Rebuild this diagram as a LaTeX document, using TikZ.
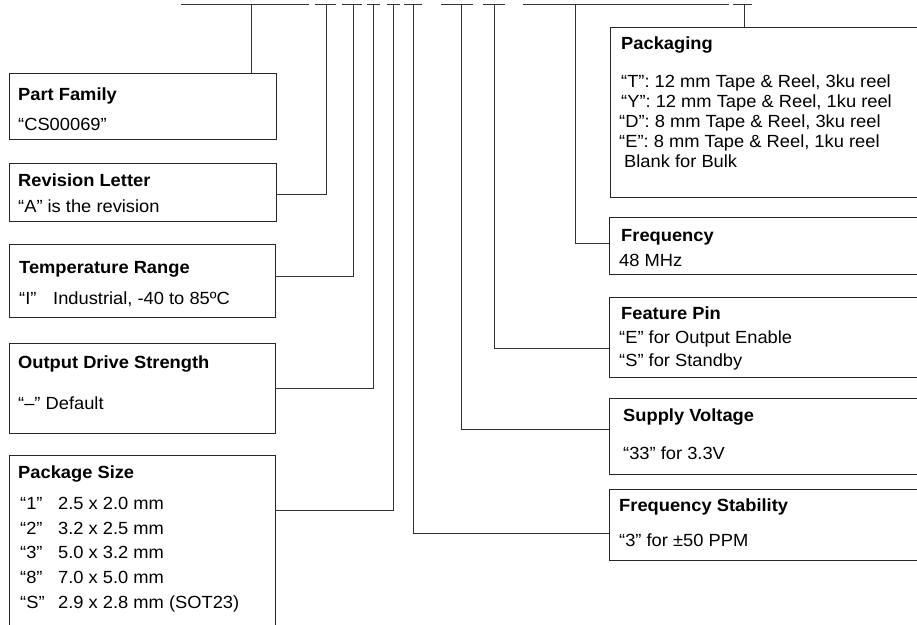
\documentclass[tikz,border=0pt]{standalone}
\usepackage{fontspec}
\setmainfont{Liberation Sans}[FakeStretch=1.04]
\begin{document}
\begin{tikzpicture}[x=1pt,y=-1pt,
  ln/.style={line width=1pt, draw=black!80},
  box/.style={draw=black!85, line width=1pt, anchor=north west, inner sep=0pt, outer sep=0pt},
  txt/.style={anchor=base west, inner sep=0pt, font=\fontsize{17.6}{20}\selectfont},
  hd/.style={anchor=base west, inner sep=0pt, font=\fontsize{17.6}{20}\selectfont\bfseries}]
\useasboundingbox (0,0) rectangle (917,624);
\clip (0,0) rectangle (917,624);

% boxes
\node[box, minimum width=267pt, minimum height=66pt] (pf) at (9,73) {};
\node[box, minimum width=267pt, minimum height=58pt] (rev) at (9,163) {};
\node[box, minimum width=266pt, minimum height=73pt] (tmp) at (9,244) {};
\node[box, minimum width=266pt, minimum height=90pt] (drv) at (9,343) {};
\node[box, minimum width=266pt, minimum height=190pt] (psz) at (9,455) {};
\node[box, minimum width=330pt, minimum height=170pt] (pkg) at (610,27) {};
\node[box, minimum width=330pt, minimum height=57pt] (frq) at (609,217) {};
\node[box, minimum width=330pt, minimum height=80pt] (fea) at (609,297) {};
\node[box, minimum width=330pt, minimum height=76pt] (sup) at (609,398) {};
\node[box, minimum width=330pt, minimum height=71pt] (stb) at (609,489) {};

% top segments
\foreach \a/\b in {181/309, 315/336, 342/362, 367/380, 387/400, 404/422, 441/473, 483/505, 523/729, 733/752}
  \draw[ln] (\a,4) -- (\b,4);

% tick points
\coordinate (tPF) at (251,4);
\coordinate (tRev) at (326,4);
\coordinate (tTmp) at (353,4);
\coordinate (tDrv) at (373,4);
\coordinate (tPsz) at (393,4);
\coordinate (tStb) at (413,4);
\coordinate (tSup) at (461,4);
\coordinate (tFea) at (494,4);
\coordinate (tFrq) at (575,4);
\coordinate (tPkg) at (744,4);

% corner points
\coordinate (cRev) at (326,194);
\coordinate (cTmp) at (353,276);
\coordinate (cDrv) at (373,388);
\coordinate (cPsz) at (393,510);
\coordinate (cStb) at (413,533);
\coordinate (cSup) at (461,429);
\coordinate (cFea) at (494,348);
\coordinate (cFrq) at (575,243);

% connectors
\draw[ln] (tPF) -- (tPF |- pf.north);
\draw[ln] (tPkg) -- (tPkg |- pkg.north);
\draw[ln] (rev.east |- cRev) -- (cRev) -- (tRev);
\draw[ln] (tmp.east |- cTmp) -- (cTmp) -- (tTmp);
\draw[ln] (drv.east |- cDrv) -- (cDrv) -- (tDrv);
\draw[ln] (psz.east |- cPsz) -- (cPsz) -- (tPsz);
\draw[ln] (stb.west |- cStb) -- (cStb) -- (tStb);
\draw[ln] (sup.west |- cSup) -- (cSup) -- (tSup);
\draw[ln] (fea.west |- cFea) -- (cFea) -- (tFea);
\draw[ln] (frq.west |- cFrq) -- (cFrq) -- (tFrq);

% texts: left column
\node[hd] (pfh) at (18,100) {Part Family};
\node[txt] (pfb) at (18,130) {“CS00069”};
\node[hd] (revh) at (18,186) {Revision Letter};
\node[txt] (revb) at (18,212) {“A” is the revision};
\node[hd] (tmph) at (19,273) {Temperature Range};
\node[txt] (tmpq) at (19,304) {“I”};
\node[txt] (tmpb) at (53,304) {Industrial, -40 to 85ºC};
\node[hd] (drvh) at (18,368) {Output Drive Strength};
\node[txt] (drvb) at (18,409) {“–” Default};
\node[hd] (pszh) at (18,478) {Package Size};
\node[txt] (pq1) at (20,509) {“1”};
\node[txt] (pv1) at (58,509) {2.5 x 2.0 mm};
\node[txt] (pq2) at (20,534) {“2”};
\node[txt] (pv2) at (58,534) {3.2 x 2.5 mm};
\node[txt] (pq3) at (20,558) {“3”};
\node[txt] (pv3) at (58,558) {5.0 x 3.2 mm};
\node[txt] (pq4) at (20,583) {“8”};
\node[txt] (pv4) at (58,583) {7.0 x 5.0 mm};
\node[txt] (pq5) at (20,608) {“S”};
\node[txt] (pv5) at (58,608) {2.9 x 2.8 mm (SOT23)};

% texts: right column
\node[hd] (pkgh) at (621,49) {Packaging};
\node[txt] (pk1) at (621,87) {“T”: 12 mm Tape \& Reel, 3ku reel};
\node[txt] (pk2) at (621,107) {“Y”: 12 mm Tape \& Reel, 1ku reel};
\node[txt] (pk3) at (619,127) {“D”: 8 mm Tape \& Reel, 3ku reel};
\node[txt] (pk4) at (619,147) {“E”: 8 mm Tape \& Reel, 1ku reel};
\node[txt] (pk5) at (624,167) {Blank for Bulk};
\node[hd] (frqh) at (621,241) {Frequency};
\node[txt] (frqb) at (619,266) {48 MHz};
\node[hd] (feah) at (621,319) {Feature Pin};
\node[txt] (fea1) at (619,343) {“E” for Output Enable};
\node[txt] (fea2) at (619,366) {“S” for Standby};
\node[hd] (suph) at (623,421) {Supply Voltage};
\node[txt] (supb) at (623,459) {“33” for 3.3V};
\node[hd] (stbh) at (619,511) {Frequency Stability};
\node[txt] (stbb) at (619,546) {“3” for ±50 PPM};
\end{tikzpicture}
\end{document}
